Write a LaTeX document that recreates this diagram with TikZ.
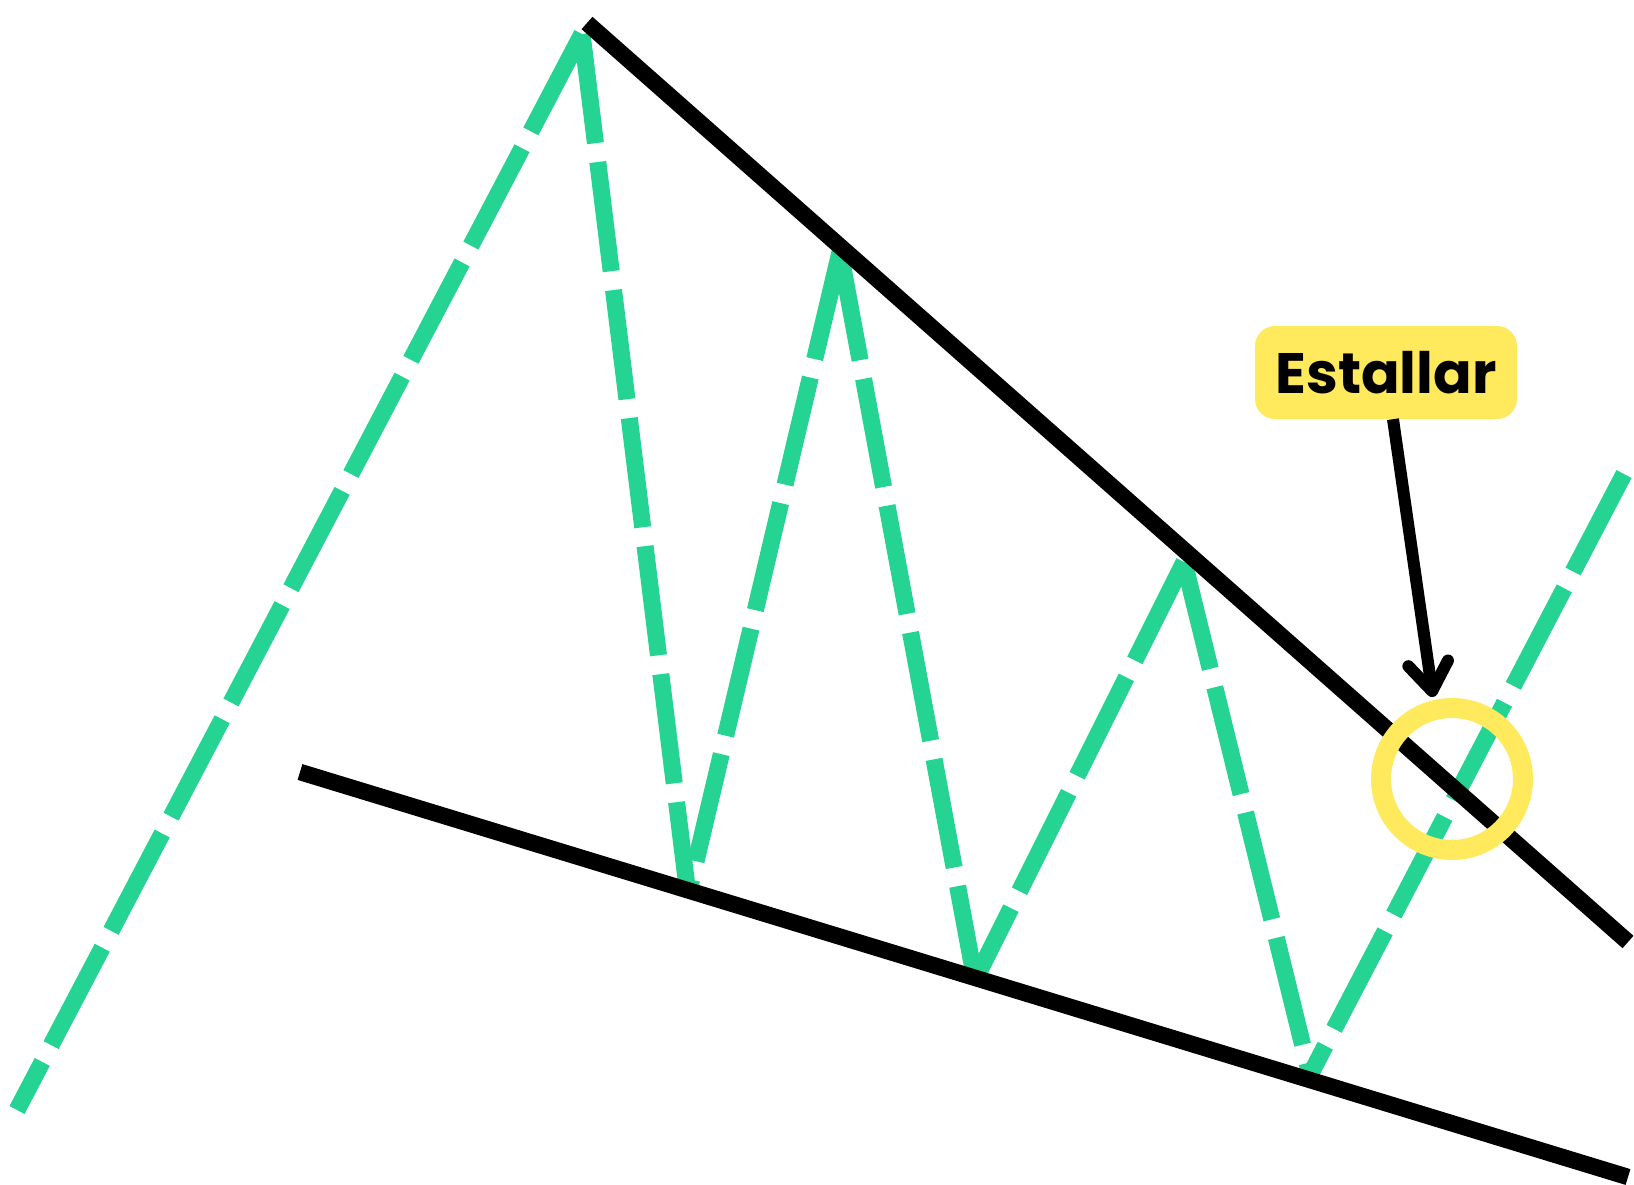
\documentclass[tikz,border=0pt]{standalone}
\usepackage{fontspec}
\newfontfamily\poppins{Poppins}
\usetikzlibrary{arrows.meta}
\definecolor{mint}{RGB}{37,211,146}
\definecolor{sunny}{RGB}{255,233,92}
\begin{document}
\begin{tikzpicture}[x=1pt, y=-1pt,
    trend/.style={draw=mint, line width=17pt, dash pattern=on 110pt off 19pt},
    edge/.style={line width=16.5pt},
    pointer/.style={line width=12pt, -{Straight Barb[length=28pt, width=40pt, round]}},
    tag/.style={fill=sunny, rounded corners=20pt, minimum width=262pt, minimum height=93pt,
      inner sep=0pt, font=\poppins\bfseries\fontsize{57}{60}\selectfont}]
  \useasboundingbox (0,0) rectangle (1634,1185);
  % price swings
  \coordinate (s0) at (17,1110);
  \coordinate (p1) at (582,34);
  \coordinate (v1) at (688,895);
  \coordinate (p2) at (840,252);
  \coordinate (v2) at (975,980);
  \coordinate (p3) at (1184,562);
  \coordinate (v3) at (1310,1075);
  \coordinate (e) at (1624,474);
  \foreach \hi/\lo in {p1/s0, p1/v1, p2/v1, p2/v2, p3/v2, p3/v3, e/v3}
    \draw[trend] (\hi) -- (\lo);
  % wedge lines
  \coordinate (r1) at (587,23);
  \coordinate (r2) at (1628,942);
  \coordinate (q1) at (300,772);
  \coordinate (q2) at (1628,1177);
  \draw[edge] (r1) -- (r2);
  \draw[edge] (q1) -- (q2);
  % breakout
  \node[circle, draw=sunny, line width=20pt, minimum size=142pt] (ring) at (1452,779) {};
  \node[tag] (label) at (1386,372.5) {Estallar};
  \coordinate (hit) at (1433,697);
  \draw[pointer] ([xshift=7pt]label.south) -- (hit);
\end{tikzpicture}
\end{document}
